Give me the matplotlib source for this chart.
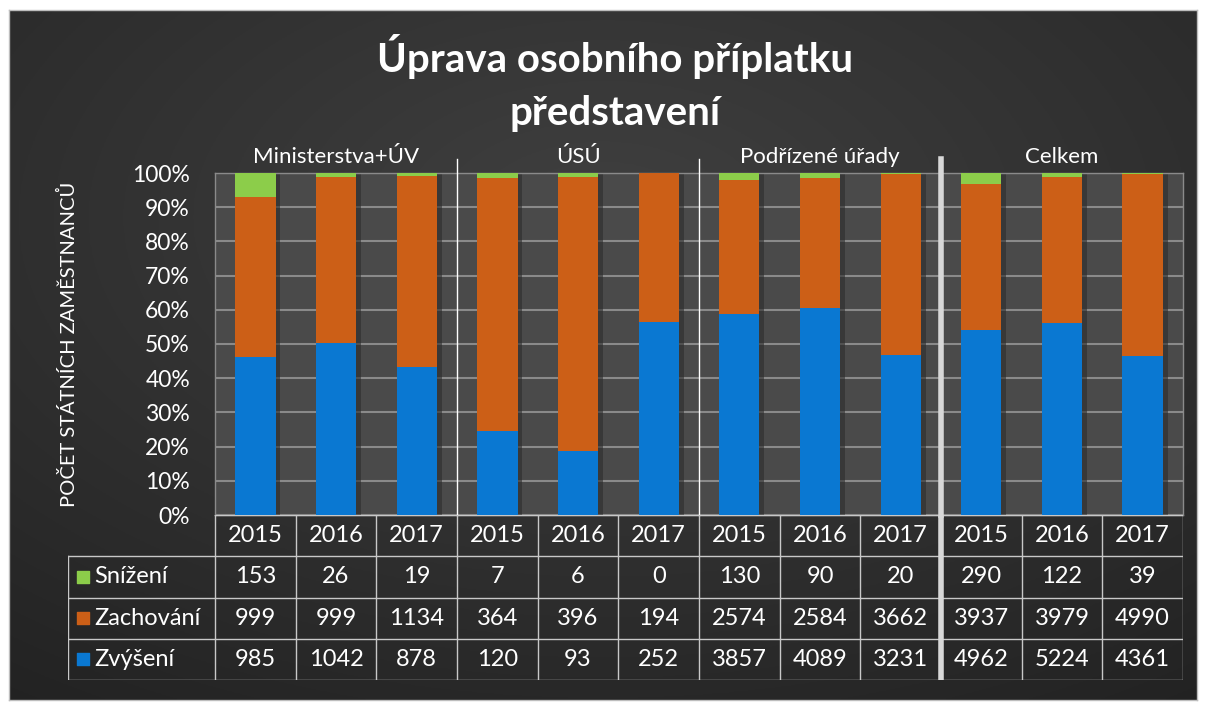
import matplotlib
import matplotlib.pyplot as plt
import numpy as np
matplotlib.use('Agg')

plt.rcParams['font.family'] = ['Lato', 'DejaVu Sans']

skupiny = ['Ministerstva+ÚV', 'ÚSÚ', 'Podřízené úřady', 'Celkem']
roky = ['2015', '2016', '2017'] * 4
snizeni = [153, 26, 19, 7, 6, 0, 130, 90, 20, 290, 122, 39]
zachovani = [999, 999, 1134, 364, 396, 194, 2574, 2584, 3662, 3937, 3979, 4990]
zvyseni = [985, 1042, 878, 120, 93, 252, 3857, 4089, 3231, 4962, 5224, 4361]

serie = [('Snížení', snizeni, '#8ccd4a'),
         ('Zachování', zachovani, '#cc5f17'),
         ('Zvýšení', zvyseni, '#0a78d2')]

W, H = 1205, 708
fig = plt.figure(figsize=(W / 100, H / 100), dpi=100)
fig.patch.set_facecolor('white')


def px(x0, y0, x1, y1):
    # pixel box -> figure fraction
    return [x0 / W, 1 - y1 / H, (x1 - x0) / W, (y1 - y0) / H]


# pozadí s radiálním přechodem
bg = fig.add_axes(px(9, 10, 1197, 700))
yy, xx = np.mgrid[0:1:300j, 0:1:500j]
r = np.sqrt(((xx - 0.5) / 0.9) ** 2 + ((yy - 0.3) / 0.9) ** 2)
shade = 0.25 - 0.12 * np.clip(r, 0, 1)
img = np.dstack([shade, shade, shade])
bg.imshow(img, aspect='auto', extent=(0, 1, 1, 0))
bg.set_xlim(0, 1)
bg.set_ylim(1, 0)
bg.set_xticks([])
bg.set_yticks([])
for s in bg.spines.values():
    s.set_color('#bdbdbd')
    s.set_linewidth(1)

n = len(roky)
x = np.arange(n)
tot = np.array(snizeni) + np.array(zachovani) + np.array(zvyseni)

ax = fig.add_axes(px(215, 173, 1183, 515))
ax.set_facecolor('#4a4a4a')
bottom = np.zeros(n)
for nazev, hodnoty, barva in serie[::-1]:
    podil = np.array(hodnoty) / tot
    # stín
    ax.bar(x + 0.06, podil, 0.5, bottom=bottom, color='#2c2c2c', alpha=0.6,
           zorder=2)
    ax.bar(x, podil, 0.5, bottom=bottom, color=barva, zorder=3,
           edgecolor='none')
    bottom += podil

ax.set_xlim(-0.5, n - 0.5)
ax.set_ylim(0, 1)
ax.set_yticks(np.linspace(0, 1, 11))
ax.set_yticklabels([f'{int(v * 100)}%' for v in np.linspace(0, 1, 11)],
                   fontsize=16.5, color='white')
ax.tick_params(axis='y', length=0, pad=18)
ax.set_xticks([])
ax.grid(axis='y', color='#8a8a8a', linewidth=1.5, zorder=0)
ax.set_axisbelow(True)
for s in ax.spines.values():
    s.set_color('#8a8a8a')
    s.set_linewidth(1)

ax.set_ylabel('POČET STÁTNÍCH ZAMĚSTNANCŮ', fontsize=14.5, color='white',
              labelpad=39)

# oddělovače skupin
for xs in [2.5, 5.5]:
    ax.plot([xs, xs], [0, 1.04], color='white', lw=1, clip_on=False, zorder=4)

for i, g in enumerate(skupiny):
    ax.text(3 * i + 1, 1.018, g, ha='center', va='bottom', fontsize=16,
            color='white', transform=ax.get_xaxis_transform())

fig.text(615 / W, 1 - 83 / H, 'Úprava osobního příplatku\npředstavení',
         ha='center', va='center', fontsize=29, fontweight='bold',
         color='white', linespacing=1.55)

# datová tabulka
lab_w = (215 - 68) / ((1183 - 215) / n)
tab = fig.add_axes(px(68, 515, 1183, 680))
tab.set_xlim(-0.5 - lab_w, n - 0.5)
tab.set_ylim(0, 4)
tab.axis('off')
lc = '#c8c8c8'
for yv in [0, 1, 2, 3]:
    tab.plot([-0.5 - lab_w, n - 0.5], [yv, yv], color=lc, lw=1)
tab.plot([-0.5, n - 0.5], [4, 4], color=lc, lw=1)
tab.plot([-0.5 - lab_w] * 2, [0, 3], color=lc, lw=1)
for xv in np.arange(-0.5, n, 1.0):
    tab.plot([xv, xv], [0, 4], color=lc, lw=1)
tab.plot([8.5, 8.5], [0, 4], color='#d8d8d8', lw=4)

for i, rok in enumerate(roky):
    tab.text(i, 3.5, rok, ha='center', va='center', fontsize=17,
             color='white')
for r_i, (nazev, hodnoty, barva) in enumerate(serie):
    yc = 2.5 - r_i
    tab.scatter([-0.5 - lab_w + 0.19], [yc], marker='s', s=70, color=barva)
    tab.text(-0.5 - lab_w + 0.33, yc, nazev, ha='left', va='center',
             fontsize=17, color='white')
    for i, v in enumerate(hodnoty):
        tab.text(i, yc, str(v), ha='center', va='center', fontsize=17,
                 color='white')

# silný oddělovač přes graf i tabulku
ax.plot([8.5, 8.5], [0, 1.04], color='#d8d8d8', lw=4, clip_on=False,
        zorder=4)

fig.savefig('out.png', dpi=100, facecolor=fig.get_facecolor())
